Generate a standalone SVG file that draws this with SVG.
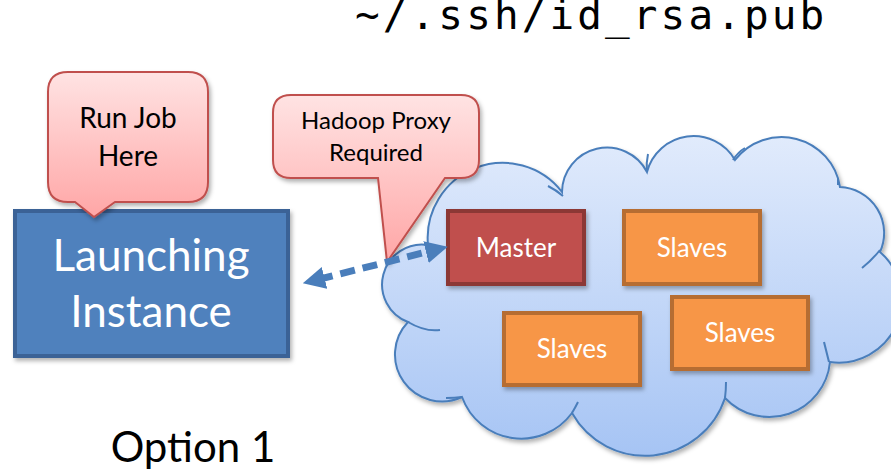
<svg xmlns="http://www.w3.org/2000/svg" width="891" height="469" viewBox="0 0 891 469">
<defs>
<linearGradient id="cloudG" x1="0" y1="0" x2="0" y2="1"><stop offset="0" stop-color="#E1EBFC"/><stop offset="1" stop-color="#A6C4F4"/></linearGradient>
<linearGradient id="callG" x1="0" y1="0" x2="0" y2="1"><stop offset="0" stop-color="#FFE3E3"/><stop offset="1" stop-color="#FFA6A6"/></linearGradient>
<filter id="sh" x="-10%" y="-10%" width="130%" height="130%"><feDropShadow dx="2" dy="3" stdDeviation="2" flood-color="#000" flood-opacity="0.3"/></filter>
<marker id="ah" viewBox="0 0 10 10" refX="3" refY="5" markerWidth="3.2" markerHeight="3.2" orient="auto-start-reverse" markerUnits="strokeWidth"><path d="M0,0 L10,5 L0,10 Z" fill="#4A7EBB"/></marker>
<style>
.t{font-family:Lato,"Open Sans",sans-serif}
.w{fill:#fff}
.k{fill:#000}
.call{fill:url(#callG);stroke:#C0504D;stroke-width:2}
.slave{fill:#F79646;stroke:#B66D31;stroke-width:4}
</style>
</defs>
<rect width="891" height="469" fill="#fff"/>
<text x="355" y="29" font-family="'DejaVu Sans Mono',monospace" font-size="41" letter-spacing="3.1" fill="#000">~/.ssh/id_rsa.pub</text>

<g id="cloud">
<path filter="url(#sh)" d="M428,245 A75,75 0 0 1 562,192 A45,45 0 0 1 647,172 A48,48 0 0 1 735,160 A59,59 0 0 1 840,187 A46,46 0 0 1 880,252 A63,63 0 0 1 830,362 A61,61 0 0 1 725,398 A84,84 0 0 1 572,413 A63,63 0 0 1 462,397 A47,47 0 0 1 408,322 A40,40 0 0 1 428,245 Z" fill="url(#cloudG)" stroke="#4A7EBB" stroke-width="2"/>
<g fill="none" stroke="#4A7EBB" stroke-width="2">
<path d="M548,186 Q556,190 563,196"/>
<path d="M647,172 Q646,163 648,154"/>
<path d="M733,160 Q738,152 745,148"/>
<path d="M838,185 L838,178"/>
<path d="M880,250 Q872,260 862,268"/>
<path d="M829,362 Q826,350 824,342"/>
<path d="M725,398 Q726,390 726,382"/>
<path d="M572,413 Q575,408 578,402"/>
<path d="M462,397 Q455,398 446,398"/>
<path d="M408,322 Q425,332 440,330"/>
</g>
</g>

<g id="launching">
<rect x="15" y="211" width="273" height="145" fill="#4F81BD" stroke="#3A6296" stroke-width="4" filter="url(#sh)"/>
<text class="t w" x="151" y="271" font-size="44" text-anchor="middle">Launching</text>
<text class="t w" x="151" y="327" font-size="44" text-anchor="middle">Instance</text>
</g>

<g id="runjob">
<path class="call" filter="url(#sh)" d="M68,72 H188 Q208,72 208,92 V182 Q208,202 188,202 H115 L94,217 L75,202 H68 Q48,202 48,182 V92 Q48,72 68,72 Z"/>
<text class="t k" x="128" y="128" font-size="28" text-anchor="middle">Run Job</text>
<text class="t k" x="128" y="166" font-size="28" text-anchor="middle">Here</text>
</g>

<g id="proxy">
<path class="call" filter="url(#sh)" d="M291,95 H461 Q479,95 479,113 V160 Q479,178 461,178 H445 L387,262 L378,178 H291 Q273,178 273,160 V113 Q273,95 291,95 Z"/>
<text class="t k" x="376" y="129" font-size="24" text-anchor="middle">Hadoop Proxy</text>
<text class="t k" x="376" y="161" font-size="24" text-anchor="middle">Required</text>
</g>

<g id="master">
<rect x="448" y="211" width="136" height="73" fill="#C0504D" stroke="#8C3836" stroke-width="4" filter="url(#sh)"/>
<text class="t w" x="516" y="257" font-size="26" text-anchor="middle">Master</text>
</g>
<g id="slaves1">
<rect class="slave" x="624" y="211" width="136" height="73" filter="url(#sh)"/>
<text class="t w" x="692" y="257" font-size="26" text-anchor="middle">Slaves</text>
</g>
<g id="slaves2">
<rect class="slave" x="504" y="313" width="136" height="72" filter="url(#sh)"/>
<text class="t w" x="572" y="358" font-size="26" text-anchor="middle">Slaves</text>
</g>
<g id="slaves3">
<rect class="slave" x="672" y="297" width="136" height="72" filter="url(#sh)"/>
<text class="t w" x="740" y="342" font-size="26" text-anchor="middle">Slaves</text>
</g>

<g id="connectors">
<line x1="318" y1="279.5" x2="432.5" y2="250.5" stroke="#4A7EBB" stroke-width="7" stroke-dasharray="15,8" marker-start="url(#ah)" marker-end="url(#ah)"/>
</g>

<text class="t k" x="193" y="462" font-size="42" text-anchor="middle">Option 1</text>
</svg>
